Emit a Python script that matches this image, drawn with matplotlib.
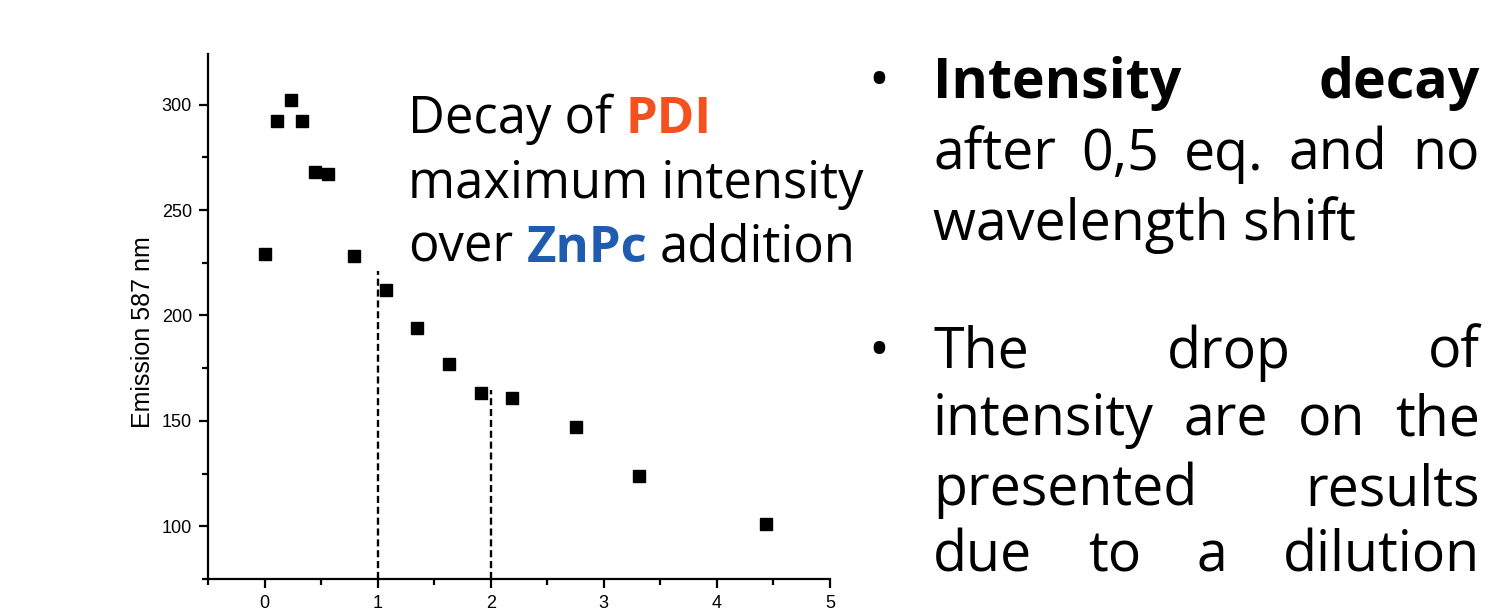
import matplotlib
matplotlib.use("Agg")
import matplotlib.pyplot as plt
from matplotlib.ticker import MultipleLocator

plt.rcParams["font.family"] = ["Liberation Sans", "DejaVu Sans"]

# Emission bei 587 nm über die zugegebenen Äquivalente ZnPc
eq_znpc = [0.0, 0.11, 0.23, 0.33, 0.45, 0.56, 0.79, 1.07, 1.35, 1.63, 1.91, 2.19, 2.75, 3.31, 4.43]
emission = [229, 292, 302, 292, 268, 267, 228, 212, 194, 177, 163, 161, 147, 124, 101]

# gestrichelte Markierungen bei 1 und 2 eq.
mark_x = [1, 2]
mark_top = [221, 164.5]

x_ticks = [0, 1, 2, 3, 4, 5]
y_ticks = [100, 150, 200, 250, 300]
y_label = "Emission 587 nm"

pdi_color = "#F4511E"
znpc_color = "#1F5BAE"
text_font = ["Open Sans", "Noto Sans", "DejaVu Sans"]

W, H = 1500, 610
fig = plt.figure(figsize=(W / 100, H / 100), dpi=100)

# Achse in Pixelkoordinaten des Bildes
ax = fig.add_axes([208 / W, 31 / H, 622 / W, 525 / H])
ax.plot(eq_znpc, emission, "s", color="black", markersize=8)
ax.vlines(mark_x, 75, mark_top, colors="black", linestyles=(0, (3, 1.6)), linewidth=1.7)

ax.set_xlim(-0.5, 5)
ax.set_ylim(75, 324)
ax.set_xticks(x_ticks)
ax.set_yticks(y_ticks)
ax.xaxis.set_minor_locator(MultipleLocator(0.5))
ax.yaxis.set_minor_locator(MultipleLocator(25))
ax.tick_params(which="major", direction="out", length=6.5, width=1.6, labelsize=13, pad=5)
ax.tick_params(which="minor", direction="out", length=4, width=1.6)
for side in ["top", "right"]:
    ax.spines[side].set_visible(False)
for side in ["left", "bottom"]:
    ax.spines[side].set_linewidth(1.6)

ax.set_ylabel(y_label, fontsize=18)
ax.yaxis.set_label_coords(-0.085, 0.47)

renderer = fig.canvas.get_renderer()


def text_width(s, **kw):
    t = fig.text(0, 0, s, **kw)
    w = t.get_window_extent(renderer).width
    t.remove()
    return w


def put(x, y, s, **kw):
    # x, y in Bildpixeln (y von oben)
    fig.text(x / W, 1 - y / H, s, ha="left", va="baseline", **kw)


def segments(x, y, parts, size):
    # mehrere Textstücke mit unterschiedlichem Stil in einer Zeile
    space = text_width("a a", family=text_font, fontsize=size) - text_width("aa", family=text_font, fontsize=size)
    for s, kw in parts:
        put(x, y, s, family=text_font, fontsize=size, **kw)
        x += text_width(s, family=text_font, fontsize=size, **kw) + space


def justify(words, y, left, right, size, **kw):
    widths = [text_width(w, family=text_font, fontsize=size, **kw) for w in words]
    gap = (right - left - sum(widths)) / (len(words) - 1)
    x = left
    for w, wd in zip(words, widths):
        put(x, y, w, family=text_font, fontsize=size, **kw)
        x += wd + gap


# Beschriftung im Diagramm
left_size = 36.5
segments(408, 133, [("Decay of", {}), ("PDI", {"fontweight": "bold", "color": pdi_color})], left_size)
segments(408, 198, [("maximum intensity", {})], left_size)
segments(408, 262, [("over", {}), ("ZnPc", {"fontweight": "bold", "color": znpc_color}), ("addition", {})], left_size)

# Aufzählung rechts (Blocksatz)
right_size = 40
l, r = 933, 1480
put(868, 98, "\u2022", family=text_font, fontsize=right_size)
justify(["Intensity", "decay"], 98, l, r, right_size, fontweight="bold")
justify(["after", "0,5", "eq.", "and", "no"], 170, l, r, right_size)
put(l, 240, "wavelength shift", family=text_font, fontsize=right_size)

put(868, 368, "\u2022", family=text_font, fontsize=right_size)
justify(["The", "drop", "of"], 368, l, r, right_size)
justify(["intensity", "are", "on", "the"], 435, l, r, right_size)
justify(["presented", "results"], 505, l, r, right_size)
justify(["due", "to", "a", "dilution"], 571, l, r, right_size)

fig.savefig("out.png", dpi=100)
